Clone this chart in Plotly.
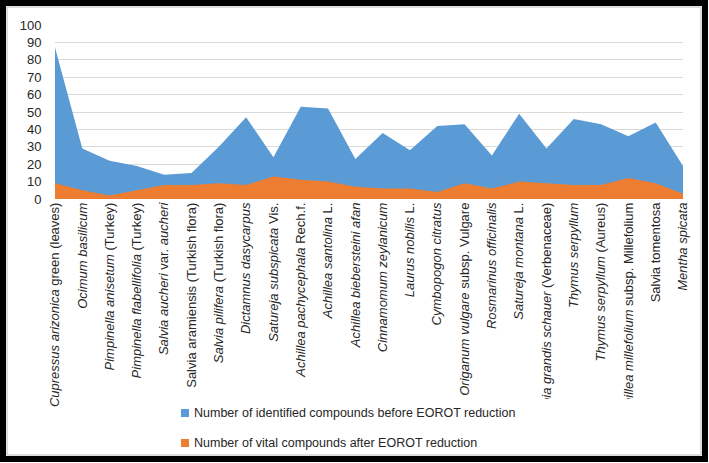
import plotly.graph_objects as go

categories = [
    "<i>Cupressus arizonica</i> green (leaves)",
    "<i>Ocimum basilicum</i>",
    "<i>Pimpinella anisetum</i> (Turkey)",
    "<i>Pimpinella flabellifolia</i> (Turkey)",
    "<i>Salvia aucheri</i> var. <i>aucheri</i>",
    "Salvia aramiensis (Turkish flora)",
    "<i>Salvia pilifera</i> (Turkish flora)",
    "<i>Dictamnus dasycarpus</i>",
    "<i>Satureja subspicata</i> Vis.",
    "<i>Achillea pachycephala</i> Rech.f.",
    "<i>Achillea santolina</i> L.",
    "<i>Achillea biebersteini afan</i>",
    "<i>Cinnamomum zeylanicum</i>",
    "<i>Laurus nobilis</i> L.",
    "<i>Cymbopogon citratus</i>",
    "<i>Origanum vulgare</i> subsp. Vulgare",
    "<i>Rosmarinus officinalis</i>",
    "<i>Satureja montana</i> L.",
    "<i>Lippia grandis schauer</i> (Verbenaceae)",
    "<i>Thymus serpyllum</i>",
    "<i>Thymus serpyllum</i> (Aureus)",
    "<i>Achillea millefolium</i> subsp. Millefolium",
    "Salvia tomentosa",
    "<i>Mentha spicata</i>",
]

before_values = [87, 29, 22, 19, 14, 15, 30, 47, 24, 53, 52, 23, 38, 28, 42, 43, 25, 49, 29, 46, 43, 36, 44, 19]
after_values = [9, 5, 2, 5, 8, 8, 9, 8, 13, 11, 10, 7, 6, 6, 4, 9, 6, 10, 9, 8, 8, 12, 9, 3]

series_names = [
    "Number of identified compounds before EOROT reduction",
    "Number of vital compounds after EOROT reduction",
]
colors = ["#5B9BD5", "#ED7D31"]

x_idx = list(range(len(categories)))

fig = go.Figure()
fig.add_trace(go.Scatter(x=x_idx, y=before_values, mode="none", fill="tozeroy",
                         fillcolor=colors[0], showlegend=False, name=series_names[0]))
fig.add_trace(go.Scatter(x=x_idx, y=after_values, mode="none", fill="tozeroy",
                         fillcolor=colors[1], showlegend=False, name=series_names[1]))

W, H = 709, 463
PL, PR, PT, PB = 55, 683, 25, 199  # plot area in pixels
L, R, T, B = PL, W - PR, PT, H - PB
pw, ph = PR - PL, PB - PT

def px2x(p):
    return (p - PL) / pw

def py2y(p):
    return (PB - p) / ph

shapes = [
    # legend background covering the tick labels
    dict(type="rect", xref="paper", yref="paper",
         x0=px2x(168), x1=px2x(640), y0=py2y(456), y1=py2y(399),
         line=dict(width=0), fillcolor="white", layer="above"),
    # outer frame
    dict(type="rect", xref="paper", yref="paper",
         x0=px2x(3), x1=px2x(705), y0=py2y(459), y1=py2y(3),
         line=dict(color="black", width=6), fillcolor="rgba(0,0,0,0)", layer="above"),
    dict(type="rect", xref="paper", yref="paper",
         x0=px2x(7), x1=px2x(701), y0=py2y(455), y1=py2y(7),
         line=dict(color="#BBBBBB", width=1), fillcolor="rgba(0,0,0,0)", layer="above"),
]
annotations = []
legend_y = [413, 443]
for name, col, yy in zip(series_names, colors, legend_y):
    shapes.append(dict(type="rect", xref="paper", yref="paper",
                       x0=px2x(181), x1=px2x(189), y0=py2y(yy + 4), y1=py2y(yy - 4),
                       line=dict(width=0), fillcolor=col, layer="above"))
    annotations.append(dict(text=name, xref="paper", yref="paper",
                            x=px2x(192), y=py2y(yy), xanchor="left", yanchor="middle",
                            showarrow=False, font=dict(size=12.5, color="#262626")))

fig.update_layout(
    width=W, height=H,
    margin=dict(l=L, r=R, t=T, b=B),
    paper_bgcolor="white", plot_bgcolor="white",
    font=dict(family="Arial, Liberation Sans, sans-serif", size=13, color="#262626"),
    showlegend=False,
    xaxis=dict(
        tickmode="array", tickvals=x_idx, ticktext=categories,
        tickangle=-90, range=[0, len(categories) - 1],
        showgrid=False, zeroline=False, showline=False, automargin=False,
        tickfont=dict(size=13, color="#262626"),
    ),
    yaxis=dict(
        range=[0, 100], dtick=10, showgrid=True, gridcolor="#D9D9D9", gridwidth=1,
        zeroline=False, showline=False, automargin=False,
        ticks="outside", ticklen=10, tickcolor="rgba(0,0,0,0)",
        tickfont=dict(size=13, color="#262626"),
    ),
    shapes=shapes,
    annotations=annotations,
)

fig.write_html("out.html", config={"displayModeBar": False},
               post_script="document.body.style.margin='0';")
